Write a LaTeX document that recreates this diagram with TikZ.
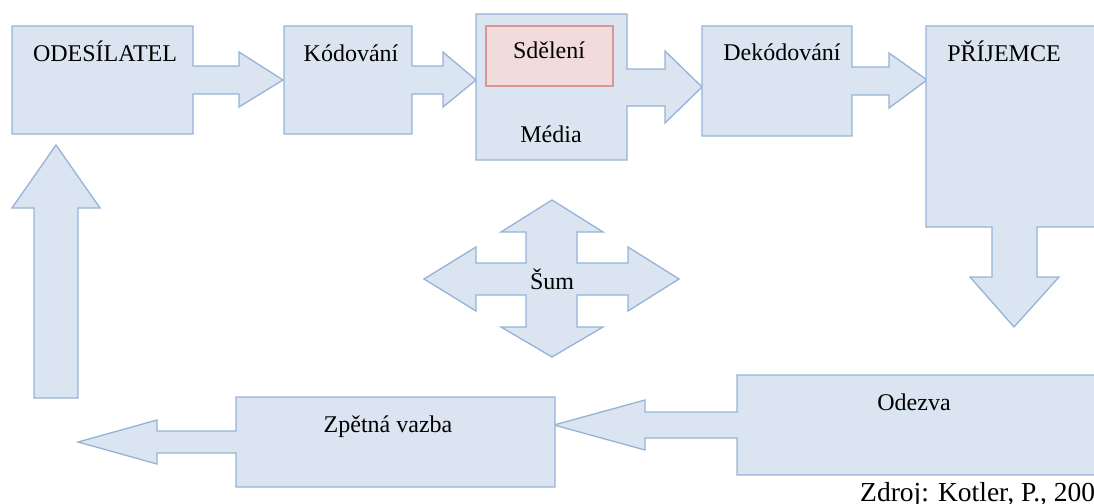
\documentclass[tikz,border=0pt]{standalone}
\usepackage{fontspec}
\setmainfont{Liberation Serif}
\usepackage{tikz}
\definecolor{boxfill}{RGB}{219,229,241}
\definecolor{boxline}{RGB}{149,179,215}
\definecolor{msgfill}{RGB}{242,220,219}
\definecolor{msgline}{RGB}{217,150,148}
\tikzset{
    callout/.style={fill=boxfill, draw=boxline, line width=1.3pt, line join=miter},
    msgbox/.style={fill=msgfill, draw=msgline, line width=1.3pt},
    lbl/.style={font=\fontsize{24}{28}\selectfont, anchor=base, inner sep=0pt}
}

\begin{document}
\begin{tikzpicture}[x=1pt, y=-1pt]
    \useasboundingbox (0,0) rectangle (1094,503);
    \clip (0,0) rectangle (1094,503);
    % top row, arrows to the right
    \foreach \xa/\ya/\xb/\yb/\sa/\sb/\hb/\ha/\hc/\tx/\ty in {12/26/193/134/66/94/239/52/107/283/80,
            284/26/412/134/66/94/443/52/107/476/80,
            476/14/627/160/69/106/665/51/123/702/87,
            702/26/852/136/67/95/889/53/108/927/80} {
        \draw[callout] (\xa,\ya) -- (\xb,\ya) -- (\xb,\sa) -- (\hb,\sa) -- (\hb,\ha) -- (\tx,\ty)
            -- (\hb,\hc) -- (\hb,\sb) -- (\xb,\sb) -- (\xb,\yb) -- (\xa,\yb) -- cycle;
    }
    % receiver, arrow down
    \draw[callout] (926,26) -- (1102,26) -- (1102,227) -- (1037,227) -- (1037,277) -- (1059,277)
        -- (1014,327) -- (970,277) -- (992,277) -- (992,227) -- (926,227) -- cycle;
    % bottom row, arrows to the left
    \foreach \xa/\ya/\xb/\yb/\sa/\sb/\hb/\ha/\hc/\tx/\ty in {737/375/1102/475/412/438/645/400/450/554/425,
            236/397/555/487/431/453/157/420/464/78/442} {
        \draw[callout] (\xb,\ya) -- (\xa,\ya) -- (\xa,\sa) -- (\hb,\sa) -- (\hb,\ha) -- (\tx,\ty)
            -- (\hb,\hc) -- (\hb,\sb) -- (\xa,\sb) -- (\xa,\yb) -- (\xb,\yb) -- cycle;
    }
    % arrow up
    \draw[callout] (56,145) -- (100,208) -- (78,208) -- (78,398) -- (34,398) -- (34,208) -- (12,208) -- cycle;
    % noise
    \draw[callout] (552,200) -- (603,232) -- (577,232) -- (577,263) -- (628,263) -- (628,247) -- (679,279)
        -- (628,311) -- (628,295) -- (577,295) -- (577,327) -- (603,327) -- (552,357) -- (501,327)
        -- (526,327) -- (526,295) -- (476,295) -- (476,311) -- (424,279) -- (476,247) -- (476,263)
        -- (526,263) -- (526,232) -- (501,232) -- cycle;
    \node[msgbox, minimum width=127pt, minimum height=60pt] (msg) at (549.5,56) {};

    \foreach \name/\x/\y/\txt in {odes/105/61/ODESÍLATEL, kod/351/61/Kódování, sdel/549/59/Sdělení,
            media/551/142/Média, dekod/782/60/Dekódování, prij/1004/61/PŘÍJEMCE, sum/552/289/Šum,
            zpet/388/432/Zpětná vazba, odez/914/410/Odezva} {
        \node[lbl] (l-\name) at (\x,\y) {\txt};
    }
    \node[lbl, font=\fontsize{27.5}{32}\selectfont, anchor=base west] (zdroj) at (860,501) {Zdroj: Kotler, P., 2001};
\end{tikzpicture}
\end{document}
